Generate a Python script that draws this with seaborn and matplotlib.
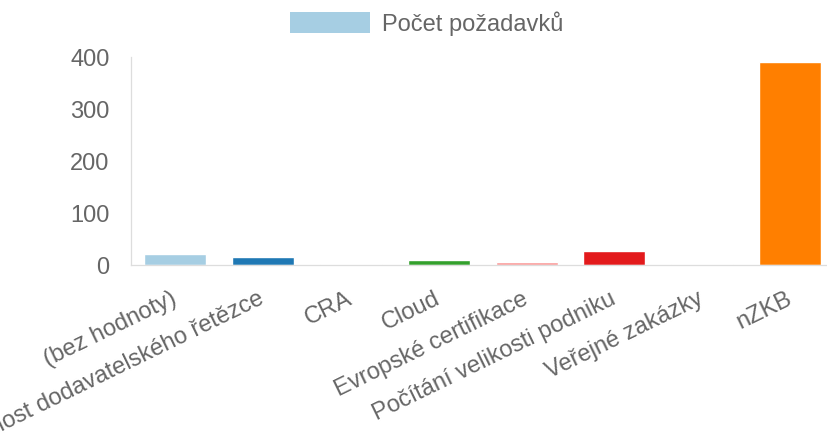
import matplotlib
matplotlib.use("Agg")
import matplotlib.pyplot as plt
import seaborn as sns
from matplotlib.patches import Patch

categories = [
    "(bez hodnoty)",
    "Bezpečnost dodavatelského řetězce",
    "CRA",
    "Cloud",
    "Evropské certifikace",
    "Počítání velikosti podniku",
    "Veřejné zakázky",
    "nZKB",
]
values = [21, 16, 2, 9, 5, 26, 2, 390]
colors = ["#a6cee3", "#1f78b4", "#b2df8a", "#33a02c", "#fb9a99", "#e31a1c", "#fdbf6f", "#ff7f00"]
legend_label = "Počet požadavků"
y_ticks = [0, 100, 200, 300, 400]

sns.set_theme(style="white")
plt.rcParams["font.family"] = ["Liberation Sans", "DejaVu Sans"]

W, H = 828, 439
fig = plt.figure(figsize=(W / 100, H / 100), dpi=100)
left_px, right_px, top_px, bottom_px = 131, 828, 58, 266
ax = fig.add_axes([left_px / W, 1 - bottom_px / H, (right_px - left_px) / W, (bottom_px - top_px) / H])

sns.barplot(x=categories, y=values, hue=categories, palette=colors, width=0.705,
            legend=False, ax=ax, saturation=1)

cat_w = 87.9
ax.set_xlim(-0.5, -0.5 + (right_px - left_px) / cat_w)
ax.set_ylim(0, 400)
ax.set_yticks(y_ticks)
ax.set_yticklabels([str(v) for v in y_ticks])

grey = "#666666"
line_c = "#dddddd"
fs = 17
ax.tick_params(axis="y", length=9.5, width=0.8, color=line_c, pad=6, labelsize=fs, labelcolor=grey)
ax.tick_params(axis="x", length=0, pad=23, labelsize=fs, labelcolor=grey)
for lab in ax.get_xticklabels():
    lab.set_rotation(26)
    lab.set_ha("right")
    lab.set_va("center")
    lab.set_rotation_mode("anchor")

for s in ["top", "right"]:
    ax.spines[s].set_visible(False)
for s in ["left", "bottom"]:
    ax.spines[s].set_color(line_c)
    ax.spines[s].set_linewidth(0.9)
ax.set_xlabel("")
ax.set_ylabel("")
ax.grid(False)

handle = Patch(facecolor=colors[0], edgecolor="none")
fig.legend([handle], [legend_label], loc="center", bbox_to_anchor=(426.5 / W, 1 - 24 / H),
           frameon=False, fontsize=fs, labelcolor=grey, handlelength=3.4, handleheight=0.97,
           handletextpad=0.5, borderpad=0)

fig.savefig("out.png", dpi=100)
